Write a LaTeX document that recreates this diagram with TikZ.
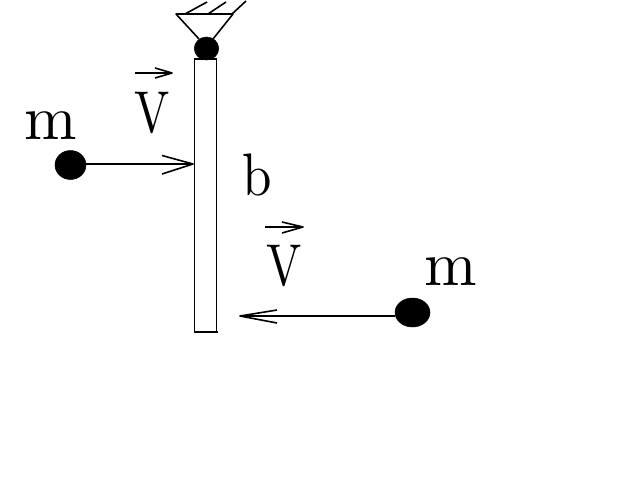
\documentclass[tikz,border=0pt]{standalone}
\usetikzlibrary{shapes.geometric}
\tikzset{
  ball/.style={ellipse,fill=black,draw=black,line width=0.5pt,inner sep=0pt},
  rod/.style={draw=black,line width=1.1pt,rectangle,inner sep=0pt},
  letter/.style={inner sep=0pt,anchor=base,font=\fontsize{10}{10}\selectfont,scale=6.3},
  vletter/.style={inner sep=0pt,anchor=base,font=\fontsize{10}{10}\selectfont,xscale=4.7,yscale=5.9},
  bletter/.style={inner sep=0pt,anchor=base,font=\fontsize{10}{10}\selectfont,xscale=5.3,yscale=6},
  heavy line/.style={line width=1.6pt,line join=round}
}
\begin{document}
\begin{tikzpicture}[x=1pt,y=-1pt]
\useasboundingbox[fill=white] (0,0) rectangle (640,480);
% rod and pivot
\node[rod,minimum width=22pt,minimum height=273pt] (bar) at (205.5,195.5) {};
\coordinate (bl) at (194,332);
\coordinate (br) at (218,332);
\draw[rod] (bl) -- (br);
\node[ball,minimum width=24.5pt,minimum height=23pt] (pivot) at (206.5,48.5) {};
% support
\coordinate (sl) at (176,14);
\coordinate (sr) at (233,14);
\coordinate (pl) at (199,39);
\coordinate (pr) at (213,39);
\draw[heavy line] (pl) -- (sl) -- (sr) -- (pr);
\coordinate (h1a) at (185,14); \coordinate (h1b) at (207,2);
\coordinate (h2a) at (208,14); \coordinate (h2b) at (226,2);
\coordinate (h3a) at (232,14); \coordinate (h3b) at (246,1);
\draw[heavy line] (h1a) -- (h1b) (h2a) -- (h2b) (h3a) -- (h3b);
% balls
\node[ball,minimum width=31pt,minimum height=29pt] (ballL) at (70.5,165) {};
\node[ball,minimum width=35pt,minimum height=29pt] (ballR) at (412.5,312.5) {};
\coordinate (hitL) at (193,164);
\coordinate (hitR) at (240,316);
\coordinate (bL1) at (162,155.5); \coordinate (bL2) at (162,174);
\coordinate (bR1) at (277,310); \coordinate (bR2) at (277,323);
\draw[heavy line] (ballL.east |- hitL) -- (hitL);
\draw[heavy line] (ballR.west |- hitR) -- (hitR);
\draw[heavy line] (bL1) -- (hitL) -- (bL2);
\draw[heavy line] (bR1) -- (hitR) -- (bR2);
% labels
\node[letter] (m1) at (50.5,139) {m};
\node[letter] (m2) at (450.5,285) {m};
\node[bletter] (b) at (257,195) {b};
\node[vletter] (v1) at (152.5,132) {V};
\node[vletter] (v2) at (284,285) {V};
% vector arrows
\coordinate (a1s) at (135,73); \coordinate (a1e) at (172,73);
\coordinate (a1u) at (155,68); \coordinate (a1d) at (155,78);
\coordinate (a2s) at (265,227); \coordinate (a2e) at (303,227);
\coordinate (a2u) at (282,222); \coordinate (a2d) at (282,233);
\draw[heavy line] (a1s) -- (a1e) (a1u) -- (a1e) -- (a1d);
\draw[heavy line] (a2s) -- (a2e) (a2u) -- (a2e) -- (a2d);
\end{tikzpicture}
\end{document}
